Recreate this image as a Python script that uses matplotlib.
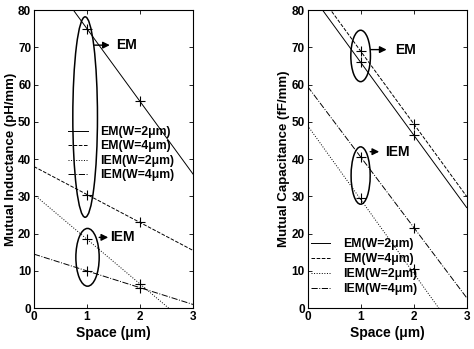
import matplotlib
matplotlib.use("Agg")
import matplotlib.pyplot as plt
from matplotlib.patches import Ellipse

plt.rcParams['font.family'] = ['Liberation Sans', 'DejaVu Sans']

# ---- data ----
x_line = [0, 3]
x_pts = [1, 2]
labels = ['EM(W=2\u03bcm)', 'EM(W=4\u03bcm)', 'IEM(W=2\u03bcm)', 'IEM(W=4\u03bcm)']
styles = ['-', '--', ':', '-.']

# Left: mutual inductance (pH/mm)
ind_line = [[94.5, 36.0], [38.0, 15.5], [30.5, -5.5], [14.5, 1.0]]
ind_pts = [[75.0, 55.5], [30.5, 23.0], [18.5, 6.5], [10.0, 5.5]]

# Right: mutual capacitance (fF/mm)
cap_line = [[85.5, 27.0], [88.5, 30.0], [49.0, -10.4], [59.5, 2.8]]
cap_pts = [[66.0, 46.5], [69.0, 49.5], [29.5, 10.5], [40.5, 21.5]]

xticks = [0, 1, 2, 3]
yticks = [0, 10, 20, 30, 40, 50, 60, 70, 80]

fig = plt.figure(figsize=(4.74, 3.49), dpi=100)
axL = fig.add_axes([0.0717, 0.117, 0.3355, 0.854])
axR = fig.add_axes([0.649, 0.117, 0.3355, 0.854])

def setup(ax, ylabel):
    ax.set_xlim(0, 3)
    ax.set_ylim(0, 80)
    ax.set_xticks(xticks)
    ax.set_yticks(yticks)
    ax.tick_params(direction='in', top=True, right=True, length=3, width=0.6,
                   labelsize=8.5, pad=2)
    for lab in ax.get_xticklabels() + ax.get_yticklabels():
        lab.set_fontweight('bold')
    ax.set_xlabel('Space (\u03bcm)', fontsize=10, fontweight='bold', labelpad=2)
    ax.set_ylabel(ylabel, fontsize=9.5, fontweight='bold', labelpad=1)
    for s in ax.spines.values():
        s.set_linewidth(0.8)

def draw(ax, lines, pts):
    handles = []
    for ln, pt, st, lab in zip(lines, pts, styles, labels):
        h, = ax.plot(x_line, ln, st, color='black', lw=0.7, label=lab)
        ax.plot(x_pts, pt, '+', color='black', ms=6.5, mew=0.8)
        handles.append(h)
    return handles

def arrow(ax, x0, x1, y):
    ax.annotate('', xy=(x1, y), xytext=(x0, y),
                arrowprops=dict(arrowstyle='-|>', color='black', lw=1.0,
                                mutation_scale=10, shrinkA=0, shrinkB=0))

# Left panel
setup(axL, 'Mutual Inductance (pH/mm)')
hL = draw(axL, ind_line, ind_pts)
axL.add_patch(Ellipse((0.965, 51.3), 0.465, 53.8, fill=False, lw=1.1, color='black'))
axL.add_patch(Ellipse((1.01, 13.65), 0.44, 15.5, fill=False, lw=1.1, color='black'))
arrow(axL, 1.14, 1.43, 70.6)
axL.text(1.55, 70.6, 'EM', fontsize=10, fontweight='bold', va='center', ha='left')
arrow(axL, 1.23, 1.40, 19.0)
axL.text(1.43, 19.0, 'IEM', fontsize=10, fontweight='bold', va='center', ha='left')
legL = axL.legend(handles=hL, loc='upper left', bbox_to_anchor=(0.16, 0.64),
                  frameon=False, fontsize=8.8, handlelength=1.6, labelspacing=0.2,
                  borderpad=0.2, handletextpad=1.0)
for t in legL.get_texts():
    t.set_fontweight('bold')

# Right panel
setup(axR, 'Mutual Capacitance (fF/mm)')
hR = draw(axR, cap_line, cap_pts)
axR.add_patch(Ellipse((1.0, 67.7), 0.37, 13.8, fill=False, lw=1.1, color='black'))
axR.add_patch(Ellipse((1.0, 35.6), 0.36, 15.4, fill=False, lw=1.1, color='black'))
arrow(axR, 1.19, 1.49, 69.4)
axR.text(1.65, 69.4, 'EM', fontsize=10, fontweight='bold', va='center', ha='left')
arrow(axR, 1.18, 1.35, 42.0)
axR.text(1.47, 42.0, 'IEM', fontsize=10, fontweight='bold', va='center', ha='left')
legR = axR.legend(handles=hR, loc='lower left', bbox_to_anchor=(-0.035, 0.015),
                  frameon=False, fontsize=8.8, handlelength=1.6, labelspacing=0.25,
                  borderpad=0.2, handletextpad=1.1)
for t in legR.get_texts():
    t.set_fontweight('bold')

fig.savefig('out.png', dpi=100)
